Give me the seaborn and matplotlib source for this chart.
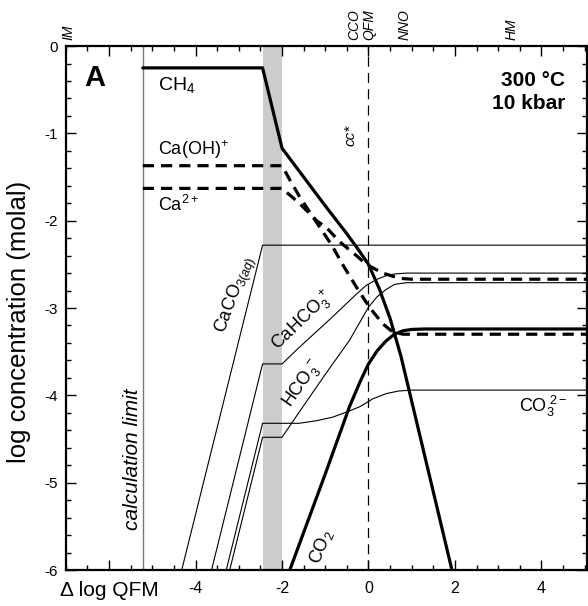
import numpy as np
import pandas as pd
import matplotlib
matplotlib.use("Agg")
import matplotlib.pyplot as plt
from matplotlib.ticker import MultipleLocator, FixedLocator
import seaborn as sns

# ---------------- data ----------------
ch4_x = [-5.22, -2.45, -2.0, -1.5, -1.0, -0.5, -0.25, 0.0, 0.25, 0.5, 0.75, 1.93]
ch4_y = [-0.25, -0.25, -1.17, -1.50, -1.83, -2.15, -2.32, -2.50, -2.78, -3.12, -3.55, -6.0]

co2_x = [-1.82, -1.0, -0.44, -0.2, 0.0, 0.2, 0.4, 0.6, 0.8, 1.0, 1.3, 5.05]
co2_y = [-6.0, -4.9, -4.13, -3.85, -3.64, -3.49, -3.38, -3.30, -3.26, -3.245, -3.24, -3.24]

caoh_x = [-5.22, -2.0, -1.8, -1.6, -1.2, -0.85, -0.6, -0.28, 0.02, 0.33, 0.55, 0.8, 5.05]
caoh_y = [-1.37, -1.37, -1.55, -1.72, -2.02, -2.28, -2.50, -2.76, -2.99, -3.18, -3.27, -3.30, -3.30]

ca_x = [-5.22, -2.0, -1.6, -1.2, -0.97, -0.67, -0.28, -0.05, 0.33, 0.72, 1.0, 5.05]
ca_y = [-1.63, -1.63, -1.80, -2.00, -2.08, -2.24, -2.40, -2.50, -2.60, -2.66, -2.67, -2.67]

caco3_x = [-4.32, -2.45, 5.05]
caco3_y = [-6.0, -2.28, -2.28]

cahco3_x = [-3.63, -2.45, -2.0, -1.6, -0.83, -0.3, -0.05, 0.2, 0.41, 0.6, 0.87, 5.05]
cahco3_y = [-6.0, -3.64, -3.64, -3.45, -3.10, -2.85, -2.74, -2.67, -2.63, -2.61, -2.60, -2.60]

hco3_x = [-3.21, -2.45, -2.0, -1.6, -1.0, -0.44, 0.0, 0.2, 0.4, 0.6, 0.87, 5.05]
hco3_y = [-6.0, -4.48, -4.48, -4.19, -3.76, -3.37, -2.99, -2.87, -2.79, -2.73, -2.71, -2.71]

co3_x = [-3.29, -2.45, -1.6, -1.2, -0.83, -0.5, -0.2, 0.1, 0.41, 0.7, 1.0, 5.05]
co3_y = [-6.0, -4.32, -4.32, -4.29, -4.25, -4.19, -4.13, -4.04, -3.98, -3.95, -3.94, -3.94]

calc_limit = -5.22
gray_band = (-2.45, -2.0)

xtick_vals = [-6, -4, -2, 0, 2, 4]
xtick_labels = ["\u0394 log QFM", "-4", "-2", "0", "2", "4"]
ytick_vals = [0, -1, -2, -3, -4, -5, -6]
ytick_labels = ["0", "-1", "-2", "-3", "-4", "-5", "-6"]

buffer_names = ["IM", "CCO", "QFM", "NNO", "HM"]
buffer_pos = [-6.95, -0.32, 0.02, 0.83, 3.3]

# ---------------- style ----------------
sns.set_style("ticks")
plt.rcParams["font.family"] = ["Liberation Sans", "DejaVu Sans"]
plt.rcParams["mathtext.fontset"] = "custom"
plt.rcParams["mathtext.rm"] = "Liberation Sans"
plt.rcParams["mathtext.it"] = "Liberation Sans:italic"
plt.rcParams["mathtext.bf"] = "Liberation Sans:bold"
for k in ["text.color", "axes.labelcolor", "xtick.color", "ytick.color", "axes.edgecolor"]:
    plt.rcParams[k] = "black"

fig = plt.figure(figsize=(5.88, 6.06), dpi=100)
ax = fig.add_axes([0.112, 0.0594, 0.886, 0.8646])

thick = 2.3
thin = 0.8

def draw(x, y, lw, ls="-", color="black", dashes=None):
    df = pd.DataFrame({"x": x, "y": y})
    sns.lineplot(data=df, x="x", y="y", ax=ax, color=color, lw=lw,
                 linestyle=ls, sort=False, estimator=None)
    if dashes is not None:
        ax.lines[-1].set_dashes(dashes)

ax.axvspan(*gray_band, color="#cccccc", lw=0, zorder=0)
ax.axvline(calc_limit, color="#777777", lw=1.0, zorder=1)
ax.axvline(0, color="black", lw=0.9, zorder=1, dashes=(8, 5))

draw(caco3_x, caco3_y, thin)
draw(cahco3_x, cahco3_y, thin)
draw(hco3_x, hco3_y, thin)
draw(co3_x, co3_y, thin)
draw(caoh_x, caoh_y, thick, ls="--", dashes=(3.5, 2.2))
draw(ca_x, ca_y, thick, ls="--", dashes=(3.5, 2.2))
draw(ch4_x, ch4_y, thick)
draw(co2_x, co2_y, thick)

ax.set_xlim(-7, 5.05)
ax.set_ylim(-6, 0)
ax.set_xlabel("")
ax.set_ylabel("log concentration (molal)", fontsize=18.5)
ax.yaxis.set_label_coords(-0.066, 0.473)

ax.xaxis.set_major_locator(FixedLocator(xtick_vals))
ax.set_xticklabels(xtick_labels, fontsize=11.5)
ax.get_xticklabels()[0].set_fontsize(15)
ax.xaxis.set_minor_locator(MultipleLocator(0.5))
ax.yaxis.set_major_locator(FixedLocator(ytick_vals))
ax.set_yticklabels(ytick_labels, fontsize=11)
ax.yaxis.set_minor_locator(MultipleLocator(0.2))
ax.tick_params(which="both", direction="in", top=True, right=True,
               labeltop=False, labelright=False, color="black", width=1.0)
ax.tick_params(which="major", length=7)
ax.tick_params(which="minor", length=3.5)
ax.tick_params(axis="x", which="major", pad=8)
ax.tick_params(axis="y", which="major", pad=6)
for s in ax.spines.values():
    s.set_linewidth(1.6)
    s.set_color("black")

# buffer labels along the top
for name, pos in zip(buffer_names, buffer_pos):
    ax.text(pos, 1.012, name, transform=ax.get_xaxis_transform(), rotation=90,
            ha="center", va="bottom", fontsize=10, style="italic")

# annotations
ax.text(-6.33, -0.37, "A", fontsize=21, fontweight="bold", ha="center", va="center")
ax.text(4.55, -0.39, "300 \u00b0C", fontsize=15, fontweight="bold", ha="right", va="center")
ax.text(4.55, -0.66, "10 kbar", fontsize=15, fontweight="bold", ha="right", va="center")
ax.text(-0.41, -1.02, "cc*", fontsize=11, style="italic", rotation=90, ha="center", va="center")
ax.text(-5.47, -4.73, "calculation limit", fontsize=15, style="italic", rotation=90,
        ha="center", va="center")

ax.text(-4.88, -0.45, r"CH$_4$", fontsize=14, ha="left", va="center")
ax.text(-4.88, -1.19, r"Ca(OH)$^{+}$", fontsize=13, ha="left", va="center")
ax.text(-4.88, -1.82, r"Ca$^{2+}$", fontsize=13, ha="left", va="center")
ax.text(-3.07, -2.85, r"CaCO$_{3(aq)}$", fontsize=13, rotation=70, ha="center", va="center",
        rotation_mode="anchor")
ax.text(-1.52, -3.14, r"CaHCO$_3^{\ +}$", fontsize=13, rotation=44, ha="center", va="center",
        rotation_mode="anchor")
ax.text(-1.52, -3.86, r"HCO$_3^{\ -}$", fontsize=13, rotation=55, ha="center", va="center",
        rotation_mode="anchor")
ax.text(3.47, -4.13, r"CO$_3^{\ 2-}$", fontsize=13, ha="left", va="center")
ax.text(-1.08, -5.73, r"CO$_2$", fontsize=13, rotation=68, ha="center", va="center",
        rotation_mode="anchor")

fig.savefig("out.png", dpi=100)
